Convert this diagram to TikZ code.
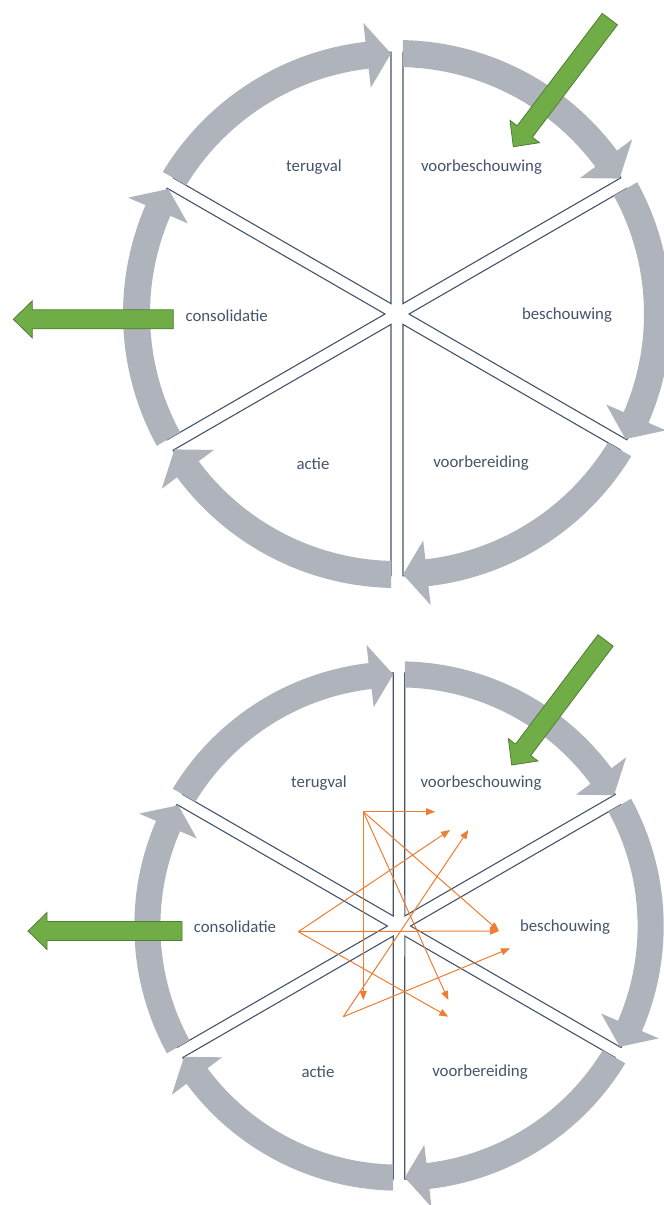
\documentclass[tikz,border=0pt]{standalone}
\usepackage{fontspec}
\setmainfont{Carlito}
\usetikzlibrary{arrows.meta}
\definecolor{bandc}{RGB}{175,179,187}
\definecolor{edgec}{RGB}{68,84,106}
\definecolor{grn}{RGB}{112,173,71}
\definecolor{grnd}{RGB}{80,126,50}
\definecolor{org}{RGB}{237,125,49}
\definecolor{txt}{RGB}{68,84,106}
\tikzset{
  sectoredge/.style={draw=edgec, line width=1.1pt, line join=miter},
  bandarrow/.style={fill=bandc},
  greenarrow/.style={fill=grn, draw=grnd, line width=0.8pt},
  lbl/.style={text=txt, font=\fontsize{16.8}{19}\selectfont, inner sep=0pt},
  orangearrow/.style={draw=org, line width=1pt, -{Triangle[length=9pt,width=7pt]}}
}
\newcommand{\wheelcycle}{%
  \def\g{6}\def\Rs{262}\def\Ro{274}\def\Ri{247}\def\Rm{260.5}\def\w{19}\def\hl{24}%
  \foreach \s in {150,90,30,-30,-90,-150}{%
    \pgfmathsetmacro{\e}{\s-60}%
    \pgfmathsetmacro{\dR}{asin(\g/\Rs)}%
    \draw[sectoredge] ({\s-30}:{2*\g}) -- ({\s-\dR}:\Rs) arc[start angle={\s-\dR}, end angle={\e+\dR}, radius=\Rs] -- cycle;
  }%
  \foreach \s in {150,90,30,-30,-90,-150}{%
    \pgfmathsetmacro{\e}{\s-60}%
    \pgfmathsetmacro{\ta}{\s-asin(\g/\Ro)}%
    \pgfmathsetmacro{\tb}{\s-asin(\g/\Ri)}%
    \pgfmathsetmacro{\tp}{\e+asin(\g/\Rm)}%
    \pgfmathsetmacro{\hb}{\tp+\hl/\Rm*57.2958}%
    \fill[bandarrow] (\ta:\Ro) arc[start angle=\ta, end angle=\hb, radius=\Ro] -- (\hb:{\Ro+\w}) -- (\tp:\Rm) -- (\hb:{\Ri-\w}) -- (\hb:\Ri) arc[start angle=\hb, end angle=\tb, radius=\Ri] -- cycle;
  }%
}
% green block arrow pointing along +x, tip at origin: #1 = total length
\newcommand{\greenblock}[1]{%
  \filldraw[greenarrow] (-#1,-9.5) -- (-19,-9.5) -- (-19,-18.5) -- (0,0) -- (-19,18.5) -- (-19,9.5) -- (-#1,9.5) -- cycle;
}
\begin{document}
\begin{tikzpicture}[x=1pt,y=1pt]
\useasboundingbox (0,0) rectangle (664,-1205);

% ===== top cycle =====
\begin{scope}[shift={(397,-314)}]
  \wheelcycle
\end{scope}
\node[lbl] (t1) at (314,-166.7) {terugval};
\node[lbl] (t2) at (481.5,-166.7) {voorbeschouwing};
\node[lbl] (t3) at (567,-315.5) {beschouwing};
\node[lbl] (t4) at (481,-463.3) {voorbereiding};
\node[lbl] (t5) at (313,-463.3) {actie};
\node[lbl] (t6) at (226.7,-315.7) {consolidatie};
\begin{scope}[shift={(513.3,-146.7)}, rotate=232.9]
  \greenblock{160}
\end{scope}
\begin{scope}[shift={(13.3,-319.3)}, rotate=180]
  \greenblock{160}
\end{scope}

% ===== bottom cycle =====
\begin{scope}[shift={(399,-926)}, scale=0.966]
  \wheelcycle
\end{scope}
\node[lbl] (b1) at (319,-783.3) {terugval};
\node[lbl] (b2) at (481,-783.3) {voorbeschouwing};
\node[lbl] (b3) at (565,-927) {beschouwing};
\node[lbl] (b4) at (480,-1072) {voorbereiding};
\node[lbl] (b5) at (318,-1072) {actie};
\node[lbl] (b6) at (235,-927) {consolidatie};
\begin{scope}[shift={(511.7,-765)}, rotate=233]
  \greenblock{156}
\end{scope}
\begin{scope}[shift={(28,-931)}, rotate=180]
  \greenblock{154}
\end{scope}

% orange arrows
\coordinate (oA) at (363.3,-811.7);
\coordinate (oB) at (298.3,-931.7);
\coordinate (oC) at (343.3,-1016.7);
\coordinate (a1) at (435,-811.7);
\coordinate (a2) at (363.3,-1000);
\coordinate (a3) at (499,-931);
\coordinate (a4) at (448.3,-1000);
\coordinate (bb1) at (450,-830);
\coordinate (bb3) at (448.3,-1016.7);
\coordinate (c1) at (468.3,-830);
\coordinate (c2) at (510,-948.3);
\draw[orangearrow] (oA) -- (a1);
\draw[orangearrow] (oA) -- (a2);
\draw[orangearrow] (oA) -- (a3);
\draw[orangearrow] (oA) -- (a4);
\draw[orangearrow] (oB) -- (bb1);
\draw[orangearrow] (oB) -- (a3);
\draw[orangearrow] (oB) -- (bb3);
\draw[orangearrow] (oC) -- (c1);
\draw[orangearrow] (oC) -- (c2);
\end{tikzpicture}
\end{document}
